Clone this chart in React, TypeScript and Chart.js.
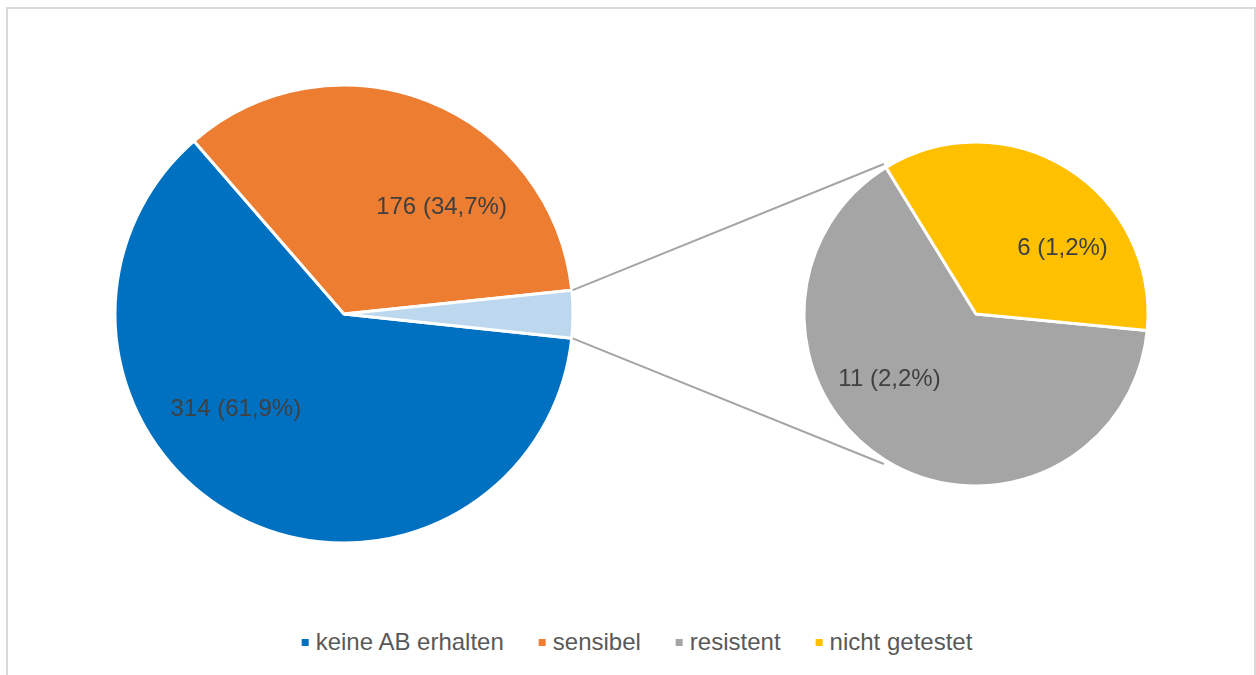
import React, { useEffect, useRef } from "react";
import { Chart, registerables } from "chart.js";

Chart.register(...registerables);

// ---- data ----
const mainCategories = ["keine AB erhalten", "sensibel"];
const mainValues = [314, 176];
const otherCategory = "Andere";
const subCategories = ["resistent", "nicht getestet"];
const subValues = [11, 6];

// ---- styles ----
const mainColors = ["#0070C0", "#ED7D31"];
const otherColor = "#BDD7EE";
const subColors = ["#A5A5A5", "#FFC000"];
const FONT = '"Liberation Sans", Arial, Helvetica, sans-serif';
const LABEL_ANGLE_SHIFT = (21 * Math.PI) / 180;
const LABEL_RADIUS = 0.63;

const otherValue = subValues.reduce((a, b) => a + b, 0);
const grandTotal = mainValues.reduce((a, b) => a + b, 0) + otherValue;

function fmt(v: number): string {
  return `${v} (${((v / grandTotal) * 100).toFixed(1).replace(".", ",")}%)`;
}

function labelPlugin(count: number) {
  return {
    id: "sliceLabels",
    afterDatasetsDraw(chart: any) {
      const meta = chart.getDatasetMeta(0);
      const values = chart.data.datasets[0].data as number[];
      const ctx = chart.ctx as CanvasRenderingContext2D;
      ctx.save();
      ctx.font = `24px ${FONT}`;
      ctx.fillStyle = "#404040";
      ctx.textAlign = "center";
      ctx.textBaseline = "middle";
      meta.data.forEach((arc: any, i: number) => {
        if (i >= count) return;
        const p = arc.getProps(["x", "y", "startAngle", "endAngle", "outerRadius"], true);
        const mid = (p.startAngle + p.endAngle) / 2 + LABEL_ANGLE_SHIFT;
        const r = p.outerRadius * LABEL_RADIUS;
        ctx.fillText(fmt(values[i]), p.x + Math.cos(mid) * r, p.y + Math.sin(mid) * r);
      });
      ctx.restore();
    },
  };
}

export default function App() {
  const mainRef = useRef<HTMLCanvasElement | null>(null);
  const subRef = useRef<HTMLCanvasElement | null>(null);

  useEffect(() => {
    if (!mainRef.current || !subRef.current) return;
    const mainChart = new Chart(mainRef.current, {
      type: "pie",
      data: {
        labels: [...mainCategories, otherCategory],
        datasets: [
          {
            data: [...mainValues, otherValue],
            backgroundColor: [...mainColors, otherColor],
            borderColor: "#ffffff",
            borderWidth: 3,
          },
        ],
      },
      options: {
        responsive: false,
        animation: false,
        events: [],
        rotation: 96.1,
        radius: 229,
        layout: { padding: 0 },
        plugins: { legend: { display: false }, tooltip: { enabled: false } },
      } as any,
      plugins: [labelPlugin(mainValues.length)],
    });

    const connectorPlugin = {
      id: "connectors",
      beforeDatasetsDraw(chart: any) {
        const other: any = mainChart.getDatasetMeta(0).data[mainValues.length];
        const sub: any = chart.getDatasetMeta(0).data[0];
        if (!other || !sub) return;
        const o = other.getProps(["x", "y", "startAngle", "endAngle", "outerRadius"], true);
        const s = sub.getProps(["x", "y", "startAngle", "endAngle", "outerRadius"], true);
        const ctx = chart.ctx as CanvasRenderingContext2D;
        const R = s.outerRadius + 4;
        const a = s.endAngle;
        ctx.save();
        ctx.strokeStyle = "#A5A5A5";
        ctx.lineWidth = 2;
        ctx.beginPath();
        ctx.moveTo(o.x + Math.cos(o.startAngle) * (o.outerRadius + 1), o.y + Math.sin(o.startAngle) * (o.outerRadius + 1));
        ctx.lineTo(s.x + Math.cos(a) * R, s.y + Math.sin(a) * R);
        ctx.moveTo(o.x + Math.cos(o.endAngle) * (o.outerRadius + 1), o.y + Math.sin(o.endAngle) * (o.outerRadius + 1));
        ctx.lineTo(s.x + Math.cos(a) * R, s.y - Math.sin(a) * R);
        ctx.stroke();
        ctx.restore();
      },
    };

    const subChart = new Chart(subRef.current, {
      type: "pie",
      data: {
        labels: subCategories,
        datasets: [
          {
            data: subValues,
            backgroundColor: subColors,
            borderColor: "#ffffff",
            borderWidth: 3,
          },
        ],
      },
      options: {
        responsive: false,
        animation: false,
        events: [],
        rotation: 95.5,
        radius: 172,
        layout: { padding: { left: 696, right: 0, top: 0, bottom: 0 } },
        plugins: { legend: { display: false }, tooltip: { enabled: false } },
      } as any,
      plugins: [connectorPlugin, labelPlugin(subValues.length)],
    });

    return () => {
      subChart.destroy();
      mainChart.destroy();
    };
  }, []);

  const legendItems = [
    ...mainCategories.map((c, i) => ({ label: c, color: mainColors[i] })),
    ...subCategories.map((c, i) => ({ label: c, color: subColors[i] })),
  ];

  return (
    <div
      style={{
        position: "fixed",
        left: 0,
        top: 0,
        width: 1256,
        height: 675,
        overflow: "hidden",
        background: "#ffffff",
      }}
    >
      <div
        style={{
          position: "absolute",
          left: 6,
          top: 7,
          width: 1250,
          height: 700,
          border: "2px solid #d9d9d9",
          boxSizing: "border-box",
        }}
      />
      <canvas ref={mainRef} width={688} height={628} style={{ position: "absolute", left: 0, top: 0 }} />
      <canvas ref={subRef} width={1256} height={628} style={{ position: "absolute", left: 0, top: 0 }} />
      <div
        style={{
          position: "absolute",
          left: 637,
          top: 630,
          transform: "translateX(-50%)",
          display: "flex",
          alignItems: "center",
          whiteSpace: "nowrap",
          fontFamily: FONT,
          fontSize: 24,
          lineHeight: "24px",
          color: "#595959",
        }}
      >
        {legendItems.map((it, i) => (
          <div
            key={it.label}
            style={{ display: "flex", alignItems: "center", marginRight: i < legendItems.length - 1 ? 35 : 0 }}
          >
            <span style={{ display: "inline-block", width: 7, height: 7, background: it.color, marginRight: 7 }} />
            <span>{it.label}</span>
          </div>
        ))}
      </div>
    </div>
  );
}
